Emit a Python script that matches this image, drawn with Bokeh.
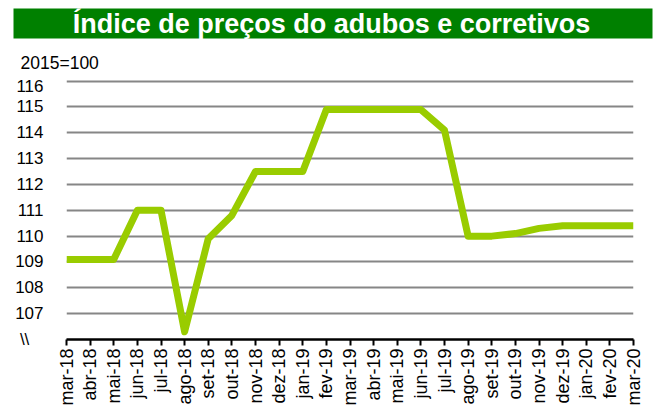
from math import pi
from bokeh.plotting import figure
from bokeh.models import Range1d, FixedTicker
from bokeh.core.properties import value
from bokeh.embed import file_html
from bokeh.resources import INLINE

months = ["mar-18", "abr-18", "mai-18", "jun-18", "jul-18", "ago-18", "set-18",
          "out-18", "nov-18", "dez-18", "jan-19", "fev-19", "mar-19", "abr-19",
          "mai-19", "jun-19", "jul-19", "ago-19", "set-19", "out-19", "nov-19",
          "dez-19", "jan-20", "fev-20", "mar-20"]
values = [109.1, 109.1, 109.1, 111.0, 111.0, 106.3, 109.9,
          110.8, 112.5, 112.5, 112.5, 114.9, 114.9, 114.9,
          114.9, 114.9, 114.1, 110.0, 110.0, 110.1, 110.3,
          110.4, 110.4, 110.4, 110.4]
y_ticks = [107, 108, 109, 110, 111, 112, 113, 114, 115, 116]
y_break = 106
title_text = "Índice de preços do adubos e corretivos"
unit_text = "2015=100"
break_mark = "\\\\" + "\u00a0\u00a0\u00a0"

FONT = "Liberation Sans"
W = 656
HEAD_H = 76

# ---- header (title banner + unit note), drawn on a pixel canvas ----
head = figure(width=W, height=HEAD_H, output_backend="svg", toolbar_location=None,
              x_range=Range1d(0, W), y_range=Range1d(HEAD_H, 0),
              min_border=0, min_border_left=0, min_border_right=0,
              min_border_top=0, min_border_bottom=0)
head.axis.visible = False
head.grid.visible = False
head.outline_line_color = None
head.background_fill_color = "white"
head.border_fill_color = "white"
head.quad(left=[13], right=[652], top=[8], bottom=[38],
          fill_color="#008000", line_color=None)
head.text(x=[331], y=[23.5], text=[title_text], text_align="center",
          text_baseline="middle", text_color="white", text_font=value(FONT),
          text_font_style="bold", text_font_size="27px")
head.text(x=[20], y=[62.5], text=[unit_text], text_align="left",
          text_baseline="middle", text_color="black", text_font=value(FONT),
          text_font_size="17.5px")

# ---- main chart ----
x = list(range(len(months)))
p = figure(width=W, height=334, output_backend="svg", toolbar_location=None,
           x_range=Range1d(0, len(months) - 1), y_range=Range1d(y_break, 116.1),
           min_border_left=66, min_border_right=23, min_border_top=2,
           min_border_bottom=71)
p.outline_line_color = None
p.background_fill_color = "white"
p.border_fill_color = "white"

p.xgrid.visible = False
p.ygrid.ticker = FixedTicker(ticks=y_ticks)
p.ygrid.grid_line_color = "#868686"
p.ygrid.grid_line_width = 2

yax = p.yaxis[0]
yax.ticker = FixedTicker(ticks=[y_break] + y_ticks)
yax.major_label_overrides = {y_break: break_mark}
yax.axis_line_color = None
yax.major_tick_line_color = None
yax.minor_tick_line_color = None
yax.major_label_standoff = 17
yax.major_label_text_font = FONT
yax.major_label_text_font_size = "17px"
yax.major_label_text_color = "black"

xax = p.xaxis[0]
xax.ticker = FixedTicker(ticks=x)
xax.major_label_overrides = {i: m for i, m in enumerate(months)}
xax.major_label_orientation = pi / 2
xax.axis_line_color = "black"
xax.axis_line_width = 2.5
xax.major_tick_line_color = "black"
xax.major_tick_line_width = 2
xax.major_tick_out = 6
xax.major_tick_in = 0
xax.minor_tick_line_color = None
xax.major_label_standoff = 3
xax.major_label_text_font = FONT
xax.major_label_text_font_size = "18px"
xax.major_label_text_color = "black"

p.line(x, values, line_color="#99CC00", line_width=7, line_join="round")

open("out.html", "w").write(file_html([head, p], INLINE))
